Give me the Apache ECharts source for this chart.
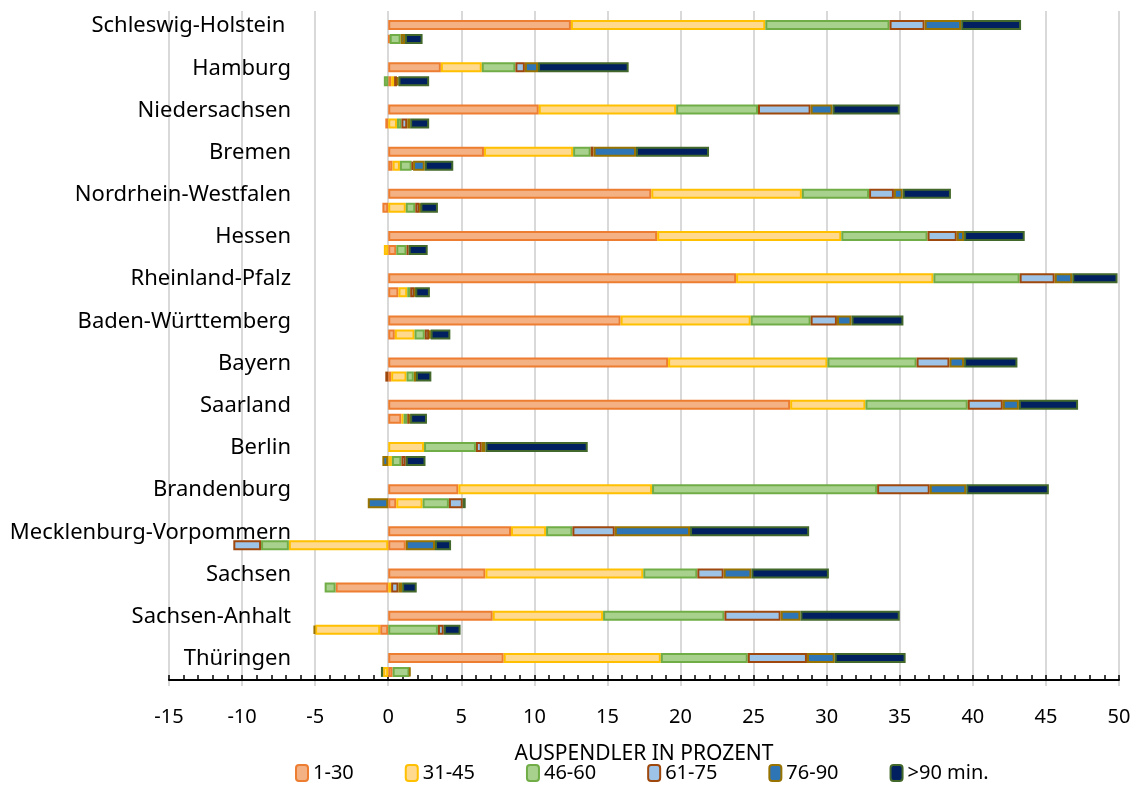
<!DOCTYPE html>
<html>
<head>
<meta charset="utf-8">
<script src="https://cdn.jsdelivr.net/npm/echarts@6/dist/echarts.min.js"></script>
<style>
  html, body { margin: 0; padding: 0; background: #fff; }
  #chart { width: 1136px; height: 785px; }
</style>
</head>
<body>
<div id="chart"></div>
<script>
// 数据：各州 + 时长分组
const laender = [
  'Schleswig-Holstein ', 'Hamburg', 'Niedersachsen', 'Bremen', 'Nordrhein-Westfalen',
  'Hessen', 'Rheinland-Pfalz', 'Baden-Württemberg', 'Bayern', 'Saarland', 'Berlin',
  'Brandenburg', 'Mecklenburg-Vorpommern', 'Sachsen', 'Sachsen-Anhalt', 'Thüringen'
]
const gruppen = ['1-30', '31-45', '46-60', '61-75', '76-90', '>90 min.']
const xTicks = [-15, -10, -5, 0, 5, 10, 15, 20, 25, 30, 35, 40, 45, 50]

// oberer Balken
const oben_1_30  = [12.5, 3.6, 10.3, 6.55, 18.0, 18.4, 23.8, 15.9, 19.15, 27.5, 0, 4.8, 8.4, 6.65, 7.15, 7.9]
const oben_31_45 = [13.3, 2.8, 9.4, 6.1, 10.3, 12.6, 13.5, 8.9, 10.9, 5.15, 2.45, 13.25, 2.4, 10.8, 7.55, 10.75]
const oben_46_60 = [8.5, 2.3, 5.6, 1.2, 4.6, 5.9, 5.9, 4.1, 6.1, 7.0, 3.55, 15.4, 1.8, 3.7, 8.3, 5.95]
const oben_61_75 = [2.4, 0.65, 3.6, 0.2, 1.7, 2.0, 2.4, 1.8, 2.25, 2.4, 0.4, 3.6, 2.9, 1.8, 3.85, 4.05]
const oben_76_90 = [2.5, 0.9, 1.5, 2.9, 0.6, 0.5, 1.2, 1.0, 1.0, 1.1, 0.25, 2.5, 5.15, 1.9, 1.35, 1.9]
const oben_90    = [4.1, 6.2, 4.6, 5.0, 3.3, 4.15, 3.1, 3.55, 3.65, 4.05, 7.0, 5.65, 8.15, 5.3, 6.8, 4.85]

// unterer Balken (mit negativen Werten)
const unten_1_30  = [0.1, 0.2, -0.2, 0.3, -0.4, 0.55, 0.7, 0.45, 0.2, 0.9, 0, 0.55, 1.2, -3.6, -0.55, 0.3]
const unten_31_45 = [0, 0.2, 0.6, 0.5, 1.2, -0.3, 0.6, 1.35, 1.05, 0.15, 0.25, 1.8, -6.8, 0.2, -4.45, -0.35]
const unten_46_60 = [0.75, -0.3, 0.3, 0.8, 0.65, 0.7, 0.2, 0.7, 0.5, 0.25, 0.65, 1.8, -1.9, -0.75, 3.4, 1.15]
const unten_61_75 = [0, 0.2, 0.4, 0.1, 0.3, 0.15, 0.3, 0.3, -0.2, 0.15, 0.3, 0.95, -1.9, 0.5, 0.4, 0]
const unten_76_90 = [0.3, 0.1, 0.2, 0.8, 0.05, 0, 0.05, 0.1, 0.15, 0.05, -0.4, -1.4, 2.0, 0.25, -0.1, 0.05]
const unten_90    = [1.2, 2.1, 1.3, 1.95, 1.2, 1.3, 1.0, 1.35, 1.05, 1.15, 1.35, 0.2, 1.1, 1.0, 1.15, -0.15]

const obenWerte = [oben_1_30, oben_31_45, oben_46_60, oben_61_75, oben_76_90, oben_90]
const untenWerte = [unten_1_30, unten_31_45, unten_46_60, unten_61_75, unten_76_90, unten_90]

// Füllung / Rahmen je Gruppe
const fuell = ['#F4B183', '#FFD98E', '#A9D18E', '#9DC3E6', '#2E75B6', '#002060']
const rahmen = ['#ED7D31', '#FFC000', '#70AD47', '#9E480E', '#997300', '#43682B']

const schrift = 'Noto Sans'

const makeSeries = (werte, stack) => werte.map((arr, i) => ({
  name: gruppen[i],
  type: 'bar',
  stack: stack,
  barWidth: 10,
  barGap: '40%',
  data: arr.map(v => (v === 0 ? '-' : v)),
  itemStyle: {
    color: fuell[i],
    borderColor: rahmen[i],
    borderWidth: 2
  },
  emphasis: { disabled: true }
}))

const chart = echarts.init(document.getElementById('chart'))

const option = {
  backgroundColor: '#fff',
  animation: false,
  textStyle: { fontFamily: schrift, color: '#000' },
  legend: {
    data: gruppen,
    top: 758,
    left: 290,
    itemWidth: 12,
    itemHeight: 16,
    itemGap: 51,
    textStyle: { fontFamily: schrift, fontSize: 20, color: '#000' }
  },
  grid: {
    left: 169,
    width: 950,
    top: 11,
    height: 675
  },
  xAxis: {
    type: 'value',
    min: xTicks[0],
    max: xTicks[xTicks.length - 1],
    interval: 5,
    offset: -6,
    name: 'AUSPENDLER IN PROZENT',
    nameLocation: 'middle',
    nameGap: 64,
    nameTextStyle: { fontFamily: schrift, fontSize: 21, color: '#000' },
    axisLine: { show: true, onZero: false, lineStyle: { color: '#000', width: 2 } },
    axisTick: { show: true, inside: true, length: 5, lineStyle: { color: '#000', width: 1.5 } },
    minorTick: { show: true, splitNumber: 5, length: 5, lineStyle: { color: '#000', width: 1.5 } },
    axisLabel: { fontFamily: schrift, fontSize: 20, color: '#000', margin: 27 },
    splitLine: { show: true, lineStyle: { color: '#d9d9d9', width: 2 } }
  },
  yAxis: {
    type: 'category',
    data: laender,
    inverse: true,
    axisLine: { show: false },
    axisTick: { show: false },
    splitLine: { show: false },
    axisLabel: {
      fontFamily: schrift,
      fontSize: 22,
      color: '#000',
      margin: -122,
      verticalAlign: 'bottom',
      lineHeight: 12
    }
  },
  series: [...makeSeries(obenWerte, 'oben'), ...makeSeries(untenWerte, 'unten')]
}

chart.setOption(option)

window.addEventListener('resize', () => chart.resize())
</script>
</body>
</html>
